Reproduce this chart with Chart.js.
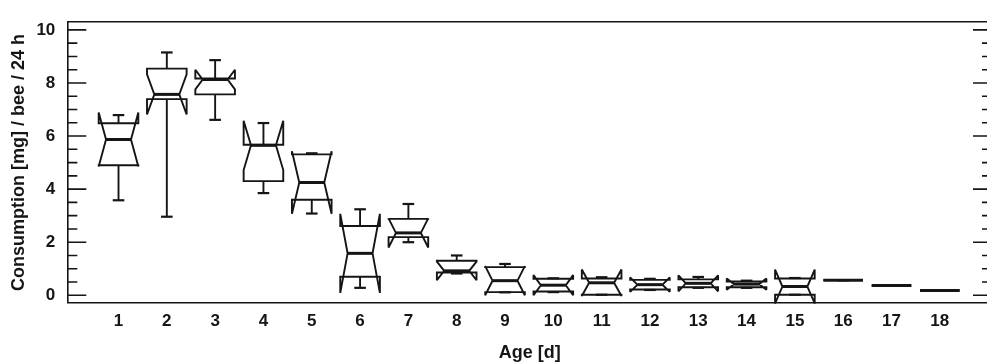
<!DOCTYPE html>
<html>
<head>
<meta charset="utf-8">
<script src="https://cdn.jsdelivr.net/npm/chart.js@4/dist/chart.umd.min.js"></script>
<style>
  html, body { margin: 0; padding: 0; background: #fff; overflow: hidden; }
  #wrap { width: 1000px; height: 362px; position: relative; }
</style>
</head>
<body>
<div id="wrap"><canvas id="c"></canvas></div>
<script>
// ---- data ----
const ages        = [1, 2, 3, 4, 5, 6, 7, 8, 9, 10, 11, 12, 13, 14, 15, 16, 17, 18];
const whiskerLow  = [3.58, 2.96, 6.61, 3.85, 3.08, 0.28, 2.00, 0.82, 0.11, 0.12, 0.02, 0.20, 0.28, 0.28, 0.02, 0.57, 0.37, 0.18];
const q1          = [4.90, 7.39, 7.57, 4.30, 3.60, 0.70, 2.19, 0.86, 0.12, 0.14, 0.02, 0.22, 0.30, 0.30, 0.02, 0.57, 0.37, 0.18];
const medians     = [5.87, 7.57, 8.13, 5.65, 4.25, 1.58, 2.35, 0.92, 0.55, 0.38, 0.47, 0.40, 0.45, 0.42, 0.33, 0.57, 0.37, 0.18];
const q3          = [6.48, 8.54, 8.17, 5.67, 5.31, 2.61, 2.88, 1.30, 1.06, 0.62, 0.63, 0.58, 0.60, 0.52, 0.63, 0.57, 0.37, 0.18];
const whiskerHigh = [6.79, 9.15, 8.86, 6.49, 5.35, 3.24, 3.44, 1.50, 1.18, 0.64, 0.68, 0.62, 0.69, 0.55, 0.65, 0.57, 0.37, 0.18];
const notchHalf   = [1.02, 0.76, 0.37, 0.93, 1.18, 1.49, 0.55, 0.35, 0.55, 0.38, 0.50, 0.27, 0.30, 0.21, 0.64, 0.00, 0.00, 0.00];
const yTickLabels = [0, 2, 4, 6, 8, 10];

// ---- styles ----
const INK = '#151515';
const BOX_HALF = 0.41;     // in category units
const MED_FRAC = 0.63;
const STAPLE_HALF = 0.12;
const FONT = "'Liberation Sans', Arial, Helvetica, sans-serif";

const boxPlugin = {
  id: 'notchedBoxes',
  afterDatasetsDraw(chart) {
    const { ctx, scales: { x, y } } = chart;
    ctx.save();
    ctx.strokeStyle = INK;
    ctx.lineJoin = 'miter';
    ctx.miterLimit = 2;
    ctx.lineCap = 'butt';
    const line = (x1, y1, x2, y2) => { ctx.beginPath(); ctx.moveTo(x1, y1); ctx.lineTo(x2, y2); ctx.stroke(); };
    ages.forEach((a, i) => {
      const xc = x.getPixelForValue(a);
      const hw = x.getPixelForValue(a + BOX_HALF) - xc;
      const mw = hw * MED_FRAC;
      const sw = x.getPixelForValue(a + STAPLE_HALF) - xc;
      const yLo = y.getPixelForValue(whiskerLow[i]);
      const yQ1 = y.getPixelForValue(q1[i]);
      const yMed = y.getPixelForValue(medians[i]);
      const yQ3 = y.getPixelForValue(q3[i]);
      const yHi = y.getPixelForValue(whiskerHigh[i]);
      const yNlo = y.getPixelForValue(medians[i] - notchHalf[i]);
      const yNhi = y.getPixelForValue(medians[i] + notchHalf[i]);
      // whiskers
      ctx.lineWidth = 1.9;
      if (Math.abs(yHi - yQ3) > 0.5) line(xc, yQ3, xc, yHi);
      if (Math.abs(yLo - yQ1) > 0.5) line(xc, yQ1, xc, yLo);
      ctx.lineWidth = 2.2;
      line(xc - sw, yHi, xc + sw, yHi);
      line(xc - sw, yLo, xc + sw, yLo);
      // notched box
      ctx.lineWidth = 1.9;
      ctx.beginPath();
      ctx.moveTo(xc - hw, yQ1);
      ctx.lineTo(xc - hw, yNlo);
      ctx.lineTo(xc - mw, yMed);
      ctx.lineTo(xc - hw, yNhi);
      ctx.lineTo(xc - hw, yQ3);
      ctx.lineTo(xc + hw, yQ3);
      ctx.lineTo(xc + hw, yNhi);
      ctx.lineTo(xc + mw, yMed);
      ctx.lineTo(xc + hw, yNlo);
      ctx.lineTo(xc + hw, yQ1);
      ctx.closePath();
      ctx.stroke();
      // median
      ctx.lineWidth = 3;
      if (notchHalf[i] === 0) line(xc - hw, yMed, xc + hw, yMed);
      else line(xc - mw, yMed, xc + mw, yMed);
    });
    ctx.restore();
  }
};

const inwardTicks = {
  id: 'inwardTicks',
  afterDraw(chart) {
    const { ctx, chartArea: ca, scales: { y } } = chart;
    ctx.save();
    ctx.strokeStyle = INK;
    ctx.lineWidth = 1.6;
    y.ticks.forEach(t => {
      const v = t.value;
      const py = y.getPixelForValue(v);
      const major = yTickLabels.some(l => Math.abs(l - v) < 1e-6);
      const len = major ? 19 : 10;
      ctx.beginPath();
      ctx.moveTo(ca.left, py); ctx.lineTo(ca.left + len, py);
      ctx.moveTo(ca.right, py); ctx.lineTo(ca.right - len, py);
      ctx.stroke();
    });
    ctx.restore();
  }
};

new Chart(document.getElementById('c'), {
  type: 'scatter',
  data: {
    datasets: [{
      label: 'Median',
      data: ages.map((a, i) => ({ x: a, y: medians[i] })),
      pointRadius: 0,
      showLine: false
    }]
  },
  options: {
    responsive: true,
    maintainAspectRatio: false,
    animation: false,
    events: [],
    layout: { padding: { left: 0, right: 8, top: 12.7, bottom: 0 } },
    plugins: { legend: { display: false }, tooltip: { enabled: false } },
    scales: {
      x: {
        type: 'linear',
        position: 'bottom',
        min: -0.06,
        max: 19.08,
        afterBuildTicks: s => { s.ticks = ages.map(v => ({ value: v })); },
        afterFit: s => { s.height = 59.3; },
        ticks: {
          autoSkip: false, maxRotation: 0, padding: 8,
          color: INK, font: { family: FONT, size: 17, weight: 'bold' },
          callback: v => String(v)
        },
        grid: { display: false, drawTicks: false },
        border: { display: true, color: INK, width: 1.6 },
        title: {
          display: true, text: 'Age [d]', color: INK,
          font: { family: FONT, size: 18, weight: 'bold', lineHeight: 1.0 },
          padding: { top: 0, bottom: 0 }
        }
      },
      xTop: {
        type: 'linear', position: 'top', min: -0.06, max: 19.08,
        afterFit: s => { s.height = 0; },
        ticks: { display: false },
        grid: { display: false, drawTicks: false },
        border: { display: true, color: INK, width: 1.6 }
      },
      y: {
        type: 'linear',
        position: 'left',
        min: -0.28,
        max: 10.29,
        afterFit: s => { s.width = 67.3; },
        ticks: {
          stepSize: 0.5, autoSkip: false, includeBounds: false, padding: 12,
          color: INK, font: { family: FONT, size: 17, weight: 'bold' },
          callback: v => yTickLabels.some(l => Math.abs(l - v) < 1e-6) ? String(Math.round(v)) : ''
        },
        grid: { display: false, drawTicks: false },
        border: { display: true, color: INK, width: 1.6 },
        title: {
          display: true, text: 'Consumption [mg] / bee / 24 h', color: INK,
          font: { family: FONT, size: 18, weight: 'bold', lineHeight: 1.0 },
          padding: { top: 10, bottom: 0 }
        }
      },
      yRight: {
        type: 'linear', position: 'right', min: -0.28, max: 10.29,
        afterFit: s => { s.width = 0; },
        ticks: { display: false },
        grid: { display: false, drawTicks: false },
        border: { display: true, color: INK, width: 1.6 }
      }
    }
  },
  plugins: [boxPlugin, inwardTicks]
});
</script>
</body>
</html>
